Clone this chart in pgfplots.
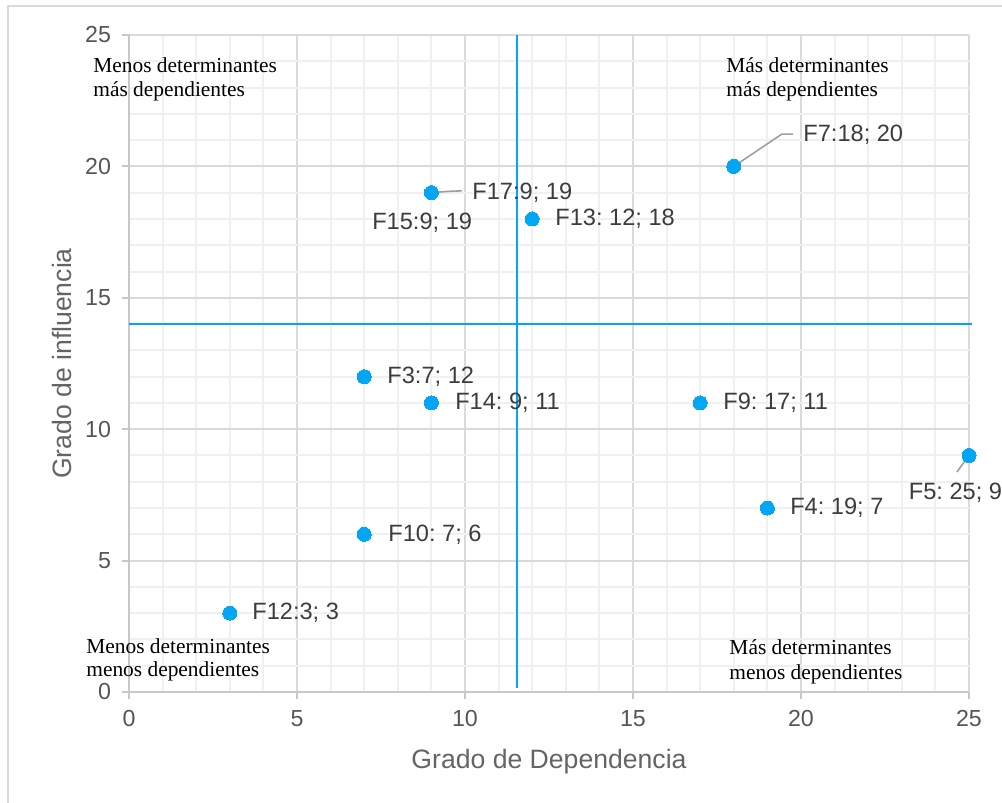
\documentclass[border=0pt]{standalone}
\usepackage{pgfplots}
\pgfplotsset{compat=1.18}
\usepackage{fontspec}
\setmainfont{Liberation Sans}
\newfontfamily\seriffont{Liberation Serif}
\frenchspacing
\definecolor{ptblue}{RGB}{3,166,244}
\definecolor{majgrid}{RGB}{218,218,218}
\definecolor{mingrid}{RGB}{240,240,240}
\definecolor{axgray}{RGB}{200,200,200}
\definecolor{ticktext}{RGB}{85,85,85}
\definecolor{labtext}{RGB}{100,100,100}
\definecolor{datatext}{RGB}{60,60,60}
\definecolor{framegray}{RGB}{217,217,217}
\begin{document}
\begin{tikzpicture}
\useasboundingbox (-64.5pt,-55.5pt) rectangle (436.5pt,346pt);
\draw[framegray, line width=1pt] (-60.5pt,-60pt) -- (-60.5pt,343pt) -- (440pt,343pt);
\begin{axis}[
  at={(0,0)}, anchor=south west,
  width=420pt, height=328.5pt, scale only axis,
  xmin=0, xmax=25, ymin=0, ymax=25,
  xtick={0,5,...,25}, ytick={0,5,...,25},
  minor x tick num=4, minor y tick num=4,
  grid=both,
  major grid style={majgrid, line width=1pt},
  minor grid style={mingrid, line width=1pt},
  axis lines*=left,
  axis line style={axgray, line width=1pt},
  tick align=outside,
  major tick length=3.5pt, minor tick length=0pt,
  tick style={axgray, line width=1pt},
  /pgf/number format/assume math mode=true,
  ticklabel style={font=\fontsize{11.6}{13}\selectfont, text=ticktext},
  xticklabel style={yshift=-2pt},
  yticklabel style={xshift=-2pt},
  xlabel={Grado de Dependencia},
  ylabel={Grado de influencia},
  every axis x label/.style={at={(rel axis cs:0.5,0)}, yshift=-35pt, anchor=center, font=\fontsize{13.3}{15}\selectfont, text=labtext},
  every axis y label/.style={at={(rel axis cs:0,0.5)}, xshift=-33.5pt, rotate=90, anchor=center, font=\fontsize{13.3}{15}\selectfont, text=labtext},
  clip=false,
]
% quadrant lines
\addplot[ptblue, line width=1pt] coordinates {(11.55,0.15) (11.55,25)};
\addplot[ptblue, line width=1pt] coordinates {(0,14) (25.1,14)};
% leader lines
\draw[gray!75, line width=0.8pt] (axis cs:9,19) -- (axis cs:9.5,19.05) -- (axis cs:9.91,19.07);
\draw[gray!75, line width=0.8pt] (axis cs:18,20) -- (axis cs:19.43,21.23) -- (axis cs:19.76,21.23);
\draw[gray!75, line width=0.8pt] (axis cs:25,9) -- (axis cs:24.64,8.37);
% points
\addplot[only marks, color=ptblue, mark=*, mark size=3.5pt, mark options={draw=ptblue, fill=ptblue, line width=0pt}] coordinates {
 (18,20) (9,19) (12,18) (7,12) (9,11) (17,11) (25,9) (19,7) (7,6) (3,3)
};
% data labels
\begin{scope}[every node/.style={anchor=west, inner sep=0pt, font=\fontsize{11.8}{13}\selectfont, text=datatext}]
\node at (axis cs:10.21,19) {F17:9; 19};
\node at (axis cs:7.23,17.85) {F15:9; 19};
\node at (axis cs:12.68,18) {F13: 12; 18};
\node at (axis cs:20.06,21.19) {F7:18; 20};
\node at (axis cs:7.68,12) {F3:7; 12};
\node at (axis cs:9.70,11) {F14: 9; 11};
\node at (axis cs:17.68,11) {F9: 17; 11};
\node at (axis cs:23.2,7.57) {F5: 25; 9};
\node at (axis cs:19.67,7) {F4: 19; 7};
\node at (axis cs:7.71,6) {F10: 7; 6};
\node at (axis cs:3.66,3) {F12:3; 3};
\end{scope}
% quadrant texts
\begin{scope}[every node/.style={anchor=base west, inner sep=0pt, font=\seriffont\fontsize{10.7}{12}\selectfont, text=black}]
\node at (axis cs:-1.071,23.57) {Menos determinantes};
\node at (axis cs:-1.071,22.65) {más dependientes};
\node at (axis cs:17.77,23.58) {Más determinantes};
\node at (axis cs:17.77,22.65) {más dependientes};
\node at (axis cs:-1.28,1.446) {Menos determinantes};
\node at (axis cs:-1.28,0.571) {menos dependientes};
\node at (axis cs:17.86,1.408) {Más determinantes};
\node at (axis cs:17.86,0.457) {menos dependientes};
\end{scope}
\end{axis}
\end{tikzpicture}
\end{document}
